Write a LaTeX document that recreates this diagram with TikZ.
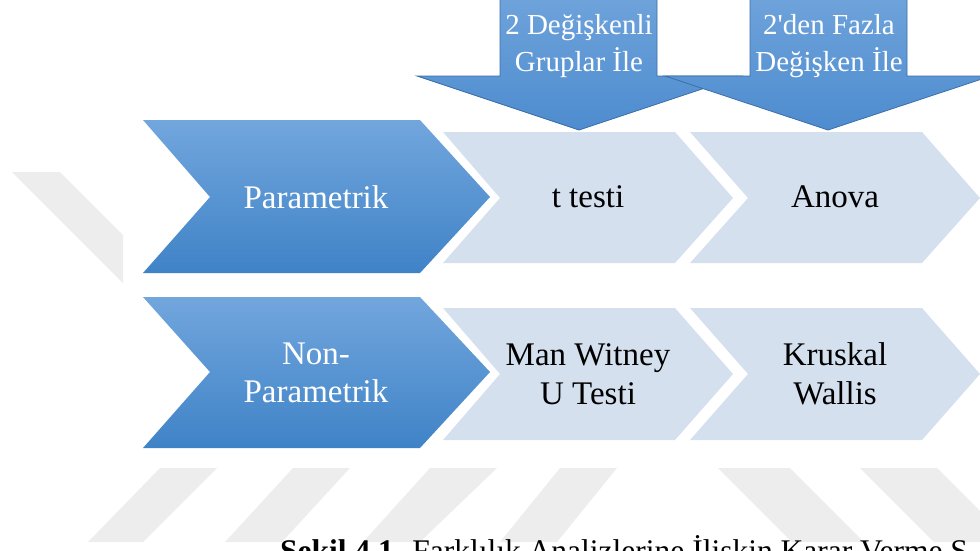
\documentclass[tikz,border=0pt]{standalone}
\usepackage{fontspec}
\setmainfont{Liberation Serif}
\newfontfamily\plainquote{Liberation Serif}[Ligatures=TeXOff]
\definecolor{darkA}{HTML}{72A6DD}
\definecolor{darkB}{HTML}{3F83C7}
\definecolor{arrA}{HTML}{6FA3DB}
\definecolor{arrB}{HTML}{4D8CCF}
\definecolor{arrLine}{HTML}{3E6EA6}
\definecolor{lightC}{HTML}{D5E0EF}
\definecolor{wm}{HTML}{EDEDED}
\tikzset{
  darkchev/.style={top color=darkA, bottom color=darkB, draw=none},
  lightchev/.style={fill=lightC, draw=none},
  downarrow/.style={top color=arrA, bottom color=arrB, draw=arrLine, line width=0.8pt, line join=miter},
  wmark/.style={fill=wm, draw=none},
  wtext/.style={text=white, font=\fontsize{33}{38.5}\selectfont, align=center, inner sep=0pt},
  btext/.style={text=black, font=\fontsize{33}{38.5}\selectfont, align=center, inner sep=0pt},
  atext/.style={text=white, font=\fontsize{29}{37}\selectfont, align=center, inner sep=0pt},
}
\begin{document}
\begin{tikzpicture}[x=1pt,y=-1pt]
\useasboundingbox (0,0) rectangle (980,550);
\clip (0,0) rectangle (980,550);
% watermark
\fill[wmark] (12,172) -- (60,172) -- (123,235) -- (123,283) -- cycle;
\fill[wmark] (88,542) -- (143,542) -- (217,468) -- (160,468) -- cycle;
\fill[wmark] (225,542) -- (282,542) -- (350,468) -- (293,468) -- cycle;
\fill[wmark] (363,542) -- (420,542) -- (497,468) -- (430,468) -- cycle;
\fill[wmark] (500,542) -- (557,542) -- (617,468) -- (560,468) -- cycle;
\fill[wmark] (718,468) -- (790,468) -- (864,542) -- (792,542) -- cycle;
\fill[wmark] (860,468) -- (937,468) -- (1011,542) -- (934,542) -- cycle;
% light chevrons
\fill[lightchev] (443,132) -- (675,132) -- (733,198) -- (675,263) -- (443,263) -- (500,198) -- cycle;
\fill[lightchev] (690,132) -- (922,132) -- (980,198) -- (922,263) -- (690,263) -- (748,198) -- cycle;
\fill[lightchev] (443,308) -- (675,308) -- (733,374) -- (675,440) -- (443,440) -- (500,374) -- cycle;
\fill[lightchev] (690,308) -- (922,308) -- (980,374) -- (922,440) -- (690,440) -- (748,374) -- cycle;
% dark chevrons
\path[darkchev] (143,120) -- (420,120) -- (490,197) -- (420,273) -- (143,273) -- (210,197) -- cycle;
\path[darkchev] (143,297) -- (420,297) -- (490,372) -- (420,448) -- (143,448) -- (210,372) -- cycle;
% down arrows
\path[downarrow] (500,-5) -- (657,-5) -- (657,76) -- (741,76) -- (579,130) -- (417,76) -- (500,76) -- cycle;
\path[downarrow] (750,-5) -- (907,-5) -- (907,76) -- (991,76) -- (828,130) -- (665,76) -- (750,76) -- cycle;
% texts
\node[atext] (a1) at (579,46) {2 Değişkenli\\Gruplar İle};
\node[atext] (a2) at (829,46) {2{\plainquote '}den Fazla\\Değişken İle};
\node[wtext] (p) at (316,197) {Parametrik};
\node[wtext] (np) at (316,373) {Non-\\Parametrik};
\node[btext] (tt) at (588,197) {t testi};
\node[btext] (an) at (835,197) {Anova};
\node[btext] (mw) at (588,374) {Man Witney\\U Testi};
\node[btext] (kw) at (835,374) {Kruskal\\Wallis};
\node[anchor=base west, inner sep=0pt, font=\fontsize{31.5}{36}\selectfont] (cap) at (280,561) {\textbf{Şekil 4.1.} Farklılık Analizlerine İlişkin Karar Verme S};
\end{tikzpicture}
\end{document}
